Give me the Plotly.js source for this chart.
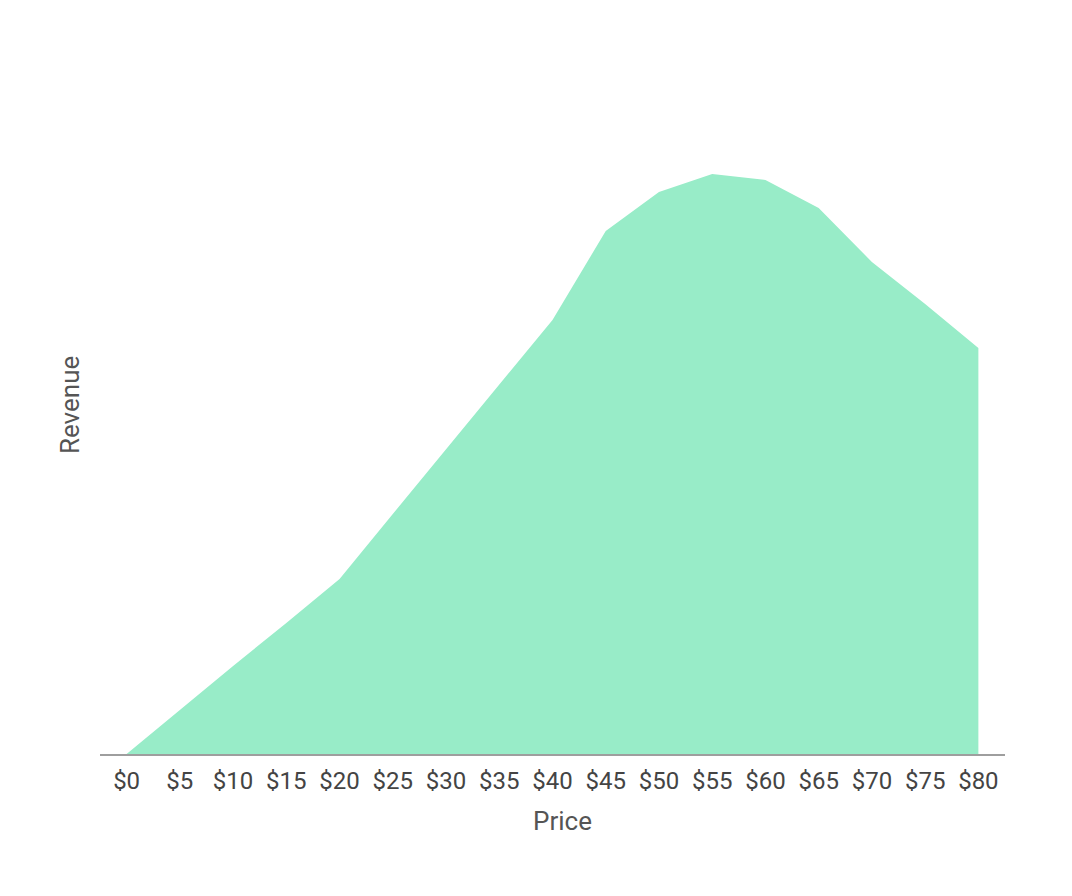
<!DOCTYPE html>
<html>
<head>
<meta charset="utf-8">
<script src="https://cdn.plot.ly/plotly-3.0.1.min.js"></script>
<style>
html,body{margin:0;padding:0;background:#fff;}
#chart{width:1072px;height:896px;}
</style>
</head>
<body>
<div id="chart"></div>
<script>
const prices = [0, 5, 10, 15, 20, 25, 30, 35, 40, 45, 50, 55, 60, 65, 70, 75, 80];
const revenue = [0, 44, 88, 131, 175, 240, 305, 369, 434, 523, 562, 580, 574, 546, 492, 450, 406];
const tickLabels = prices.map(p => '$' + p);

const trace = {
  x: prices,
  y: revenue,
  type: 'scatter',
  mode: 'lines',
  fill: 'tozeroy',
  fillcolor: '#98ECC8',
  line: {width: 0, color: '#98ECC8'},
  hoverinfo: 'skip'
};

const layout = {
  width: 1072,
  height: 896,
  margin: {l: 100, r: 67, t: 56, b: 142},
  paper_bgcolor: '#fff',
  plot_bgcolor: '#fff',
  showlegend: false,
  font: {family: 'Roboto, sans-serif', color: '#444'},
  xaxis: {
    range: [-2.5, 82.5],
    tickvals: prices,
    ticktext: tickLabels,
    showgrid: false,
    zeroline: false,
    showline: true,
    linecolor: '#9e9e9e',
    linewidth: 2,
    ticks: '',
    ticklabelstandoff: 4,
    tickfont: {size: 24, color: '#444'}
  },
  yaxis: {
    range: [0, 698],
    showgrid: false,
    zeroline: false,
    showline: false,
    showticklabels: false,
    ticks: ''
  },
  annotations: [
    {
      text: 'Price', xref: 'paper', yref: 'paper',
      x: 0.5105, y: -0.096, xanchor: 'center', yanchor: 'middle',
      showarrow: false, font: {size: 26, color: '#555'}
    },
    {
      text: 'Revenue', xref: 'paper', yref: 'paper',
      x: -0.0331, y: 0.5, xanchor: 'center', yanchor: 'middle', textangle: -90,
      showarrow: false, font: {size: 26, color: '#555'}
    }
  ]
};

Plotly.newPlot('chart', [trace], layout, {displayModeBar: false, staticPlot: true});
</script>
</body>
</html>
